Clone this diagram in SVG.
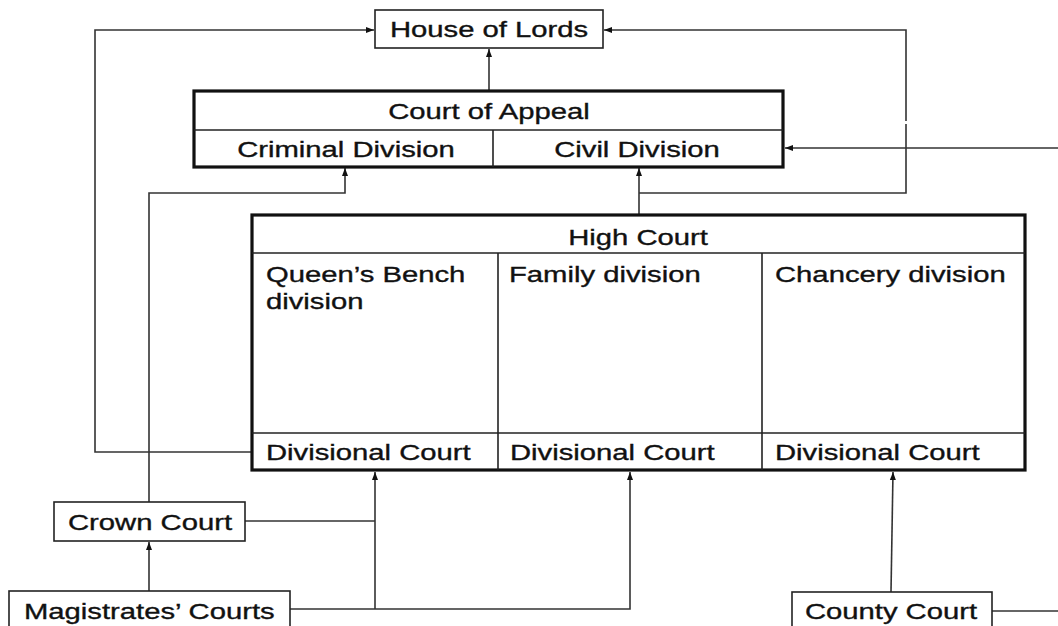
<svg xmlns="http://www.w3.org/2000/svg" width="1058" height="626" viewBox="0 0 1058 626">
<style>
.t{font-family:"Liberation Sans",Arial,sans-serif;font-size:22.5px;fill:#111;stroke:#111;stroke-width:0.35}
.m{text-anchor:middle}
.box{fill:#fff;stroke:#222;stroke-width:1.6}
.thick{fill:#fff;stroke:#111;stroke-width:3.2}
.div{stroke:#222;stroke-width:1.6;fill:none}
.c{fill:none;stroke:#333;stroke-width:1.6}
.a{marker-end:url(#arr)}
</style>
<defs>
<marker id="arr" markerUnits="userSpaceOnUse" markerWidth="10" markerHeight="10" viewBox="0 0 10 10" refX="9" refY="5" orient="auto">
<path d="M1,2 L9,5 L1,8 Z" fill="#111"/>
</marker>
</defs>
<g id="connectors">
<path class="c a" d="M489 91 V49"/>
<path class="c a" d="M252 452 H95 V30 H374"/>
<path class="c a" d="M639 215 V168"/>
<path class="c" d="M639 193 H906 V124"/>
<path class="c a" d="M906 121 V30 H604"/>
<path class="c a" d="M1058 148 H785"/>
<path class="c a" d="M149 502 V193 H345 V168"/>
<path class="c a" d="M149 591 V542"/>
<path class="c" d="M245 521 H375"/>
<path class="c a" d="M375 609 V472"/>
<path class="c a" d="M290 609 H630 V472"/>
<path class="c a" d="M891 592 L893 472"/>
<path class="c" d="M992 611 H1058"/>
</g>
<g id="house-of-lords">
<rect class="box" x="375" y="10" width="228" height="38"/>
<text class="t m" transform="translate(489,37) scale(1.3,1)">House of Lords</text>
</g>
<g id="court-of-appeal">
<rect class="thick" x="194" y="91" width="589" height="76"/>
<line class="div" x1="194" y1="130" x2="783" y2="130"/>
<line class="div" x1="493" y1="130" x2="493" y2="167"/>
<text class="t m" transform="translate(489,119) scale(1.3,1)">Court of Appeal</text>
<text class="t m" transform="translate(346,157) scale(1.3,1)">Criminal Division</text>
<text class="t m" transform="translate(637,157) scale(1.3,1)">Civil Division</text>
</g>
<g id="high-court">
<rect class="thick" x="252" y="215" width="773" height="255"/>
<line class="div" x1="252" y1="253" x2="1025" y2="253"/>
<line class="div" x1="498" y1="253" x2="498" y2="470"/>
<line class="div" x1="762" y1="253" x2="762" y2="470"/>
<line class="div" x1="252" y1="433" x2="1025" y2="433"/>
<text class="t m" transform="translate(638,245) scale(1.3,1)">High Court</text>
<text class="t" transform="translate(266,282) scale(1.3,1)">Queen’s Bench</text>
<text class="t" transform="translate(266,309) scale(1.3,1)">division</text>
<text class="t" transform="translate(509,282) scale(1.3,1)">Family division</text>
<text class="t" transform="translate(775,282) scale(1.3,1)">Chancery division</text>
<text class="t" transform="translate(266,460) scale(1.3,1)">Divisional Court</text>
<text class="t" transform="translate(510,460) scale(1.3,1)">Divisional Court</text>
<text class="t" transform="translate(775,460) scale(1.3,1)">Divisional Court</text>
</g>
<g id="crown-court">
<rect class="box" x="54" y="502" width="191" height="39"/>
<text class="t m" transform="translate(150,530) scale(1.3,1)">Crown Court</text>
</g>
<g id="magistrates-courts">
<rect class="box" x="9" y="591" width="281" height="50"/>
<text class="t" transform="translate(24,619) scale(1.3,1)">Magistrates’ Courts</text>
</g>
<g id="county-court">
<rect class="box" x="792" y="592" width="200" height="50"/>
<text class="t m" transform="translate(891,619) scale(1.3,1)">County Court</text>
</g>
</svg>
